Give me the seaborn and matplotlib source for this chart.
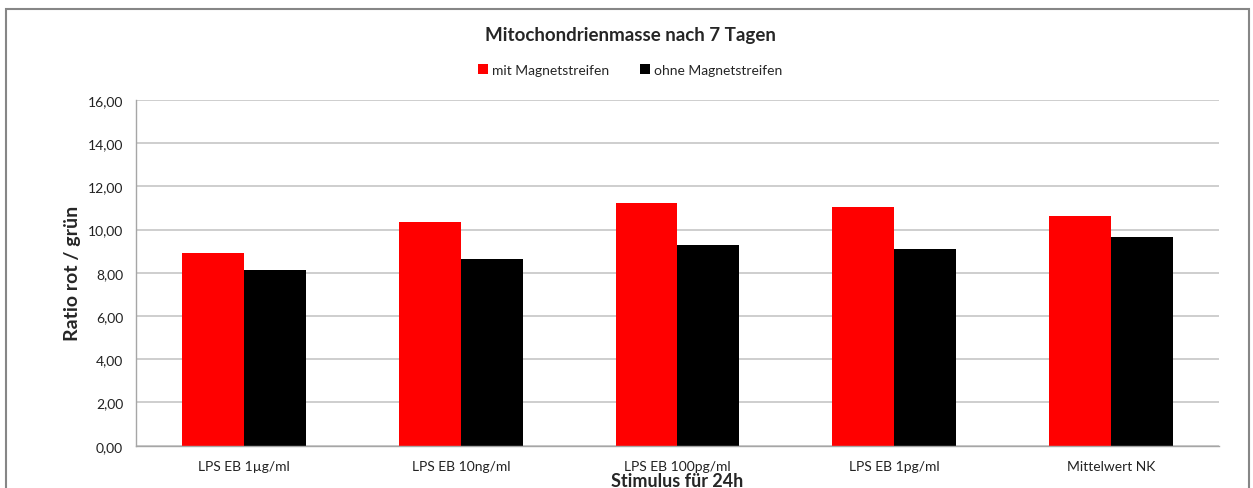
import matplotlib
matplotlib.use("Agg")
import matplotlib.pyplot as plt
from matplotlib.ticker import FuncFormatter, FixedLocator
from matplotlib.patches import Rectangle
import pandas as pd
import seaborn as sns

# values
categories = ["LPS EB 1µg/ml", "LPS EB 10ng/ml", "LPS EB 100pg/ml", "LPS EB 1pg/ml", "Mittelwert NK"]
mit_magnet = [8.94, 10.37, 11.22, 11.05, 10.63]
ohne_magnet = [8.14, 8.63, 9.28, 9.12, 9.68]
series_names = ["mit Magnetstreifen", "ohne Magnetstreifen"]
series_colors = ["#FF0000", "#000000"]
y_ticks = [0, 2, 4, 6, 8, 10, 12, 14, 16]

df = pd.DataFrame({
    "Stimulus": categories * 2,
    "Ratio": mit_magnet + ohne_magnet,
    "Serie": [series_names[0]] * len(categories) + [series_names[1]] * len(categories),
})

sns.set_style("white")
plt.rcParams["font.family"] = ["Lato", "DejaVu Sans"]

fig = plt.figure(figsize=(12.53, 4.89), dpi=100)
ax = fig.add_axes([0.1083, 0.0865, 0.8648, 0.707])

sns.barplot(data=df, x="Stimulus", y="Ratio", hue="Serie", palette=series_colors,
            width=0.57, saturation=1, linewidth=0, errorbar=None, ax=ax)

ax.set_xlim(-0.5, len(categories) - 0.5)
ax.set_ylim(0, 16)
ax.set_yticks(y_ticks)
ax.yaxis.set_major_formatter(FuncFormatter(lambda v, _: f"{v:.2f}".replace(".", ",")))
ax.yaxis.grid(True, color="#CACACA", lw=1.3)
ax.set_axisbelow(True)

for side in ["top", "right"]:
    ax.spines[side].set_visible(False)
for side in ["left", "bottom"]:
    ax.spines[side].set_color("#A6A6A6")
    ax.spines[side].set_linewidth(1.0)

ax.tick_params(axis="y", length=5, width=1, color="#A6A6A6", labelsize=10, labelcolor="#222222", pad=4)
ax.tick_params(axis="x", which="major", length=0, labelsize=10, labelcolor="#222222", pad=10)
ax.xaxis.set_minor_locator(FixedLocator([i - 0.5 for i in range(len(categories) + 1)]))
ax.tick_params(axis="x", which="minor", length=5, width=1, color="#A6A6A6")

ax.set_ylabel("Ratio rot / grün", fontsize=14, fontweight="bold")
ax.yaxis.label.set_va("center")
ax.yaxis.set_label_coords(-0.058, 0.5)
ax.set_xlabel("Stimulus für 24h", fontsize=13, fontweight="bold")
ax.xaxis.label.set_va("center")
ax.xaxis.set_label_coords(0.5, -0.101)

fig.text(0.503, 0.928, "Mitochondrienmasse nach 7 Tagen", ha="center", va="center",
         fontsize=13.5, fontweight="bold")

sns.move_legend(ax, "center", bbox_to_anchor=(0.503, 0.855), bbox_transform=fig.transFigure,
                ncol=2, frameon=False, title=None, fontsize=10,
                handlelength=0.7, handleheight=0.7, handletextpad=0.3, columnspacing=2.2)

fig.patches.append(Rectangle((6 / 1253, -0.1), 1243 / 1253, 1.0 - 10 / 489 + 0.1,
                             transform=fig.transFigure, fill=False,
                             edgecolor="#868686", lw=1.5))

fig.savefig("out.png", dpi=100)
